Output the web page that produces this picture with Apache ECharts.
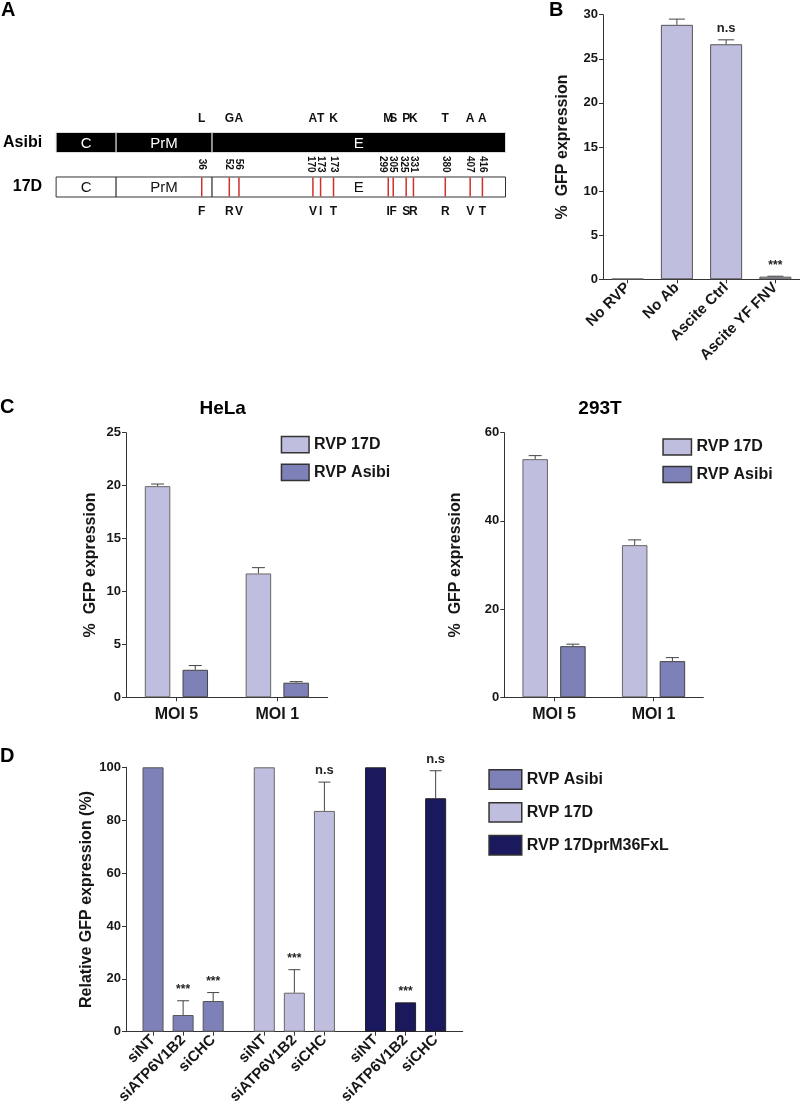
<!DOCTYPE html>
<html><head><meta charset="utf-8">
<script src="https://cdn.jsdelivr.net/npm/echarts@6/dist/echarts.min.js"></script>
<style>html,body{margin:0;padding:0;background:#fff}#c{width:800px;height:1112px}</style>
</head><body><div id="c"></div>
<script>
// ---------- Panel A: genome diagram ----------
const aRows = ['Asibi', '17D'];
const aSegNames = ['C', 'PrM', 'E'];
const aSegStart = [0, 60.3, 156.7];
const aSegEnd = [60.3, 156.7, 451.5];
const aMutX = [146.3, 174, 183.7, 258, 265.7, 278.7, 333.7, 338.7, 351.7, 359, 391, 416, 428.3];
const aMutNum = ['36', '52', '56', '170', '173', '173', '299', '305', '325', '331', '380', '407', '416'];
const aAsibiAA = ['L', 'G', 'A', 'A', 'T', 'K', 'M', 'S', 'P', 'K', 'T', 'A', 'A'];
const a17DAA = ['F', 'R', 'V', 'V', 'I', 'T', 'I', 'F', 'S', 'R', 'R', 'V', 'T'];

// ---------- Panel B ----------
const bCategories = ['No RVP', 'No Ab', 'Ascite Ctrl', 'Ascite YF FNV'];
const bValues = [0.05, 28.85, 26.65, 0.3];
const bErrors = [0, 0.65, 0.5, 0.05];
const bSig = ['', '', 'n.s', '***'];

// ---------- Panel C ----------
const cCategories = ['MOI 5', 'MOI 1'];
const hela17D = [19.95, 11.7];
const hela17DErr = [0.2, 0.55];
const helaAsibi = [2.6, 1.38];
const helaAsibiErr = [0.4, 0.1];
const t293_17D = [54.0, 34.5];
const t293_17DErr = [0.8, 1.2];
const t293Asibi = [11.6, 8.2];
const t293AsibiErr = [0.45, 0.8];

// ---------- Panel D ----------
const dTreatments = ['siNT', 'siATP6V1B2', 'siCHC'];
const dPositions = [1, 2, 3, 4.7, 5.7, 6.7, 8.4, 9.4, 10.4];
const dLabels = ['siNT', 'siATP6V1B2', 'siCHC', 'siNT', 'siATP6V1B2', 'siCHC', 'siNT', 'siATP6V1B2', 'siCHC'];
const dAsibi = [100, 6.3, 11.6];
const dAsibiErr = [0, 5.4, 3.2];
const dAsibiSig = ['', '***', '***'];
const d17D = [100, 14.75, 83.5];
const d17DErr = [0, 8.7, 10.9];
const d17DSig = ['', '***', 'n.s'];
const dFxL = [100, 11.1, 88.3];
const dFxLErr = [0, 0, 10.4];
const dFxLSig = ['', '***', 'n.s'];

const FONT = "'Liberation Sans', Arial, Helvetica, sans-serif";
const INK = '#161616';
const LIGHT = '#c0bedf';
const MED = '#7e80b8';
const NAVY = '#1b195e';

function yAx(grid, max, interval, name, gap) {
  return {
    type: 'value', gridIndex: grid, min: 0, max: max, interval: interval,
    name: name, nameLocation: 'middle', nameGap: gap,
    nameTextStyle: { fontFamily: FONT, fontWeight: 'bold', fontSize: 16, color: INK },
    axisLine: { show: true, lineStyle: { color: '#333', width: 1 } },
    axisTick: { show: true, length: 4, lineStyle: { color: '#333' } },
    axisLabel: { fontFamily: FONT, fontWeight: 'bold', fontSize: 13, color: INK, margin: 5 },
    splitLine: { show: false }
  };
}
function xCat(grid, data, label) {
  return {
    type: 'category', gridIndex: grid, data: data,
    axisLine: { show: true, lineStyle: { color: '#333', width: 1 } },
    axisTick: { show: true, alignWithLabel: true, length: 4, lineStyle: { color: '#333' } },
    axisLabel: Object.assign({ fontFamily: FONT, fontWeight: 'bold', color: INK, interval: 0 }, label),
    splitLine: { show: false }
  };
}
function errSeries(xi, yi, xs, vals, errs, sigs, offset, cap, sigSize) {
  return {
    type: 'custom', xAxisIndex: xi, yAxisIndex: yi, z: 4, silent: true,
    data: xs.map(function (x, i) { return [x, vals[i], errs[i]]; }),
    encode: { x: 0, y: 1 },
    renderItem: function (params, api) {
      const i = params.dataIndex;
      const x = api.value(0), v = api.value(1), e = api.value(2);
      const p0 = api.coord([x, v]);
      const p1 = api.coord([x, v + e]);
      const cx = p0[0] + offset;
      const ch = [];
      if (e > 0) {
        ch.push({ type: 'line', shape: { x1: cx, y1: p0[1], x2: cx, y2: p1[1] }, style: { stroke: '#444', lineWidth: 1 } });
        ch.push({ type: 'line', shape: { x1: cx - cap, y1: p1[1], x2: cx + cap, y2: p1[1] }, style: { stroke: '#444', lineWidth: 1 } });
      }
      const s = sigs ? sigs[i] : '';
      if (s) {
        const fs = s === 'n.s' ? sigSize + 1 : sigSize;
        ch.push({ type: 'text', style: { text: s, x: cx, y: p1[1] - 5, align: 'center', verticalAlign: 'bottom',
          font: 'bold ' + fs + 'px ' + FONT, fill: '#222' } });
      }
      return { type: 'group', children: ch };
    }
  };
}
function barS(name, xi, yi, data, color, border, extra) {
  return Object.assign({
    type: 'bar', name: name, xAxisIndex: xi, yAxisIndex: yi, data: data,
    itemStyle: { color: color, borderColor: border, borderWidth: 1 }, z: 2
  }, extra);
}

const C_BW = 25.5, C_GAP = 12.2;
const cOff = (C_BW + C_GAP) / 2;
const legendBase = {
  orient: 'vertical', icon: 'rect', selectedMode: false,
  textStyle: { fontFamily: FONT, fontWeight: 'bold', fontSize: 16, color: INK },
  itemStyle: { borderColor: '#333', borderWidth: 1.5 }
};

const option = {
  animation: false,
  backgroundColor: '#fff',
  graphic: [
    { type: 'text', x: 1, y: 10, style: { text: 'A', font: 'bold 20px ' + FONT, fill: '#000', verticalAlign: 'middle' } },
    { type: 'text', x: 549, y: 10, style: { text: 'B', font: 'bold 20px ' + FONT, fill: '#000', verticalAlign: 'middle' } },
    { type: 'text', x: 0, y: 407, style: { text: 'C', font: 'bold 20px ' + FONT, fill: '#000', verticalAlign: 'middle' } },
    { type: 'text', x: 0, y: 756, style: { text: 'D', font: 'bold 20px ' + FONT, fill: '#000', verticalAlign: 'middle' } },
    { type: 'text', x: 222.7, y: 409, style: { text: 'HeLa', font: 'bold 19px ' + FONT, fill: '#000', align: 'center', verticalAlign: 'middle' } },
    { type: 'text', x: 600, y: 409, style: { text: '293T', font: 'bold 19px ' + FONT, fill: '#000', align: 'center', verticalAlign: 'middle' } }
  ],
  grid: [
    { left: 54, width: 452, top: 120.25, height: 89 },
    { left: 603, right: 0, top: 14.7, height: 264.6 },
    { left: 126, width: 201.7, top: 432.7, height: 264.6 },
    { left: 504.3, width: 199, top: 432.7, height: 264.6 },
    { left: 126, width: 336.7, top: 767.3, height: 264.4 }
  ],
  xAxis: [
    { type: 'value', gridIndex: 0, min: 0, max: 452, show: false },
    xCat(1, bCategories, { rotate: 45, fontSize: 15, margin: 6 }),
    xCat(2, cCategories, { fontSize: 16, margin: 9 }),
    xCat(3, cCategories, { fontSize: 16, margin: 9 }),
    {
      type: 'value', gridIndex: 4, min: 0.1, max: 11.3,
      axisLine: { show: true, lineStyle: { color: '#333', width: 1 } },
      axisTick: { show: true, length: 4, customValues: dPositions, lineStyle: { color: '#333' } },
      axisLabel: {
        customValues: dPositions, rotate: 45, fontFamily: FONT, fontWeight: 'bold', fontSize: 15, color: INK, margin: 6,
        formatter: function (v) {
          const i = dPositions.findIndex(function (p) { return Math.abs(p - v) < 1e-6; });
          return i >= 0 ? dLabels[i] : '';
        }
      },
      splitLine: { show: false }
    }
  ],
  yAxis: [
    {
      type: 'category', gridIndex: 0, data: aRows, inverse: true,
      axisLine: { show: false }, axisTick: { show: false },
      axisLabel: { fontFamily: FONT, fontWeight: 'bold', fontSize: 16, color: '#000', margin: 14 }
    },
    yAx(1, 30, 5, '%  GFP expression', 32),
    yAx(2, 25, 5, '%  GFP expression', 27),
    yAx(3, 60, 20, '%  GFP expression', 41),
    yAx(4, 100, 20, 'Relative GFP expression (%)', 31)
  ],
  legend: [
    Object.assign({ data: ['RVP 17D', 'RVP Asibi'], left: 275.7, top: 430.7, itemWidth: 27.6, itemHeight: 16.3, itemGap: 10 }, legendBase),
    Object.assign({ data: ['RVP 17D', 'RVP Asibi'], left: 657.3, top: 433.3, itemWidth: 28.4, itemHeight: 16, itemGap: 10 }, legendBase),
    Object.assign({ data: ['RVP Asibi', 'RVP 17D', 'RVP 17DprM36FxL'], left: 483.3, top: 764, itemWidth: 32.7, itemHeight: 19.4, itemGap: 12 }, legendBase)
  ],
  series: [
    // Panel A segments
    {
      type: 'custom', xAxisIndex: 0, yAxisIndex: 0, z: 2, silent: true,
      data: [0, 1].flatMap(function (r) { return aSegNames.map(function (n, k) { return [aSegStart[k], aSegEnd[k], r, k]; }); }),
      encode: { x: [0, 1], y: 2 },
      renderItem: function (params, api) {
        const r = api.value(2), k = api.value(3);
        const p1 = api.coord([api.value(0), r]);
        const p2 = api.coord([api.value(1), r]);
        const h = api.size([0, 1])[1] * 0.45;
        const dark = r === 0;
        return {
          type: 'group', children: [
            { type: 'rect', shape: { x: p1[0], y: p1[1] - h / 2, width: p2[0] - p1[0], height: h },
              style: { fill: dark ? '#000' : '#fff', stroke: dark ? '#ddd' : '#333', lineWidth: 1 } },
            { type: 'text', style: { text: aSegNames[k], x: (p1[0] + p2[0]) / 2, y: p1[1] + 1, align: 'center', verticalAlign: 'middle',
              font: '15px ' + FONT, fill: dark ? '#fff' : '#111' } }
          ]
        };
      }
    },
    // Panel A mutations
    {
      type: 'custom', xAxisIndex: 0, yAxisIndex: 0, z: 3, silent: true,
      data: aMutX.map(function (x) { return [x, 1]; }),
      encode: { x: 0, y: 1 },
      renderItem: function (params, api) {
        const i = params.dataIndex;
        const x = api.value(0);
        const pA = api.coord([x, 0]);
        const pD = api.coord([x, 1]);
        const band = api.size([0, 1])[1];
        const h = band * 0.45;
        // keep rotated numbers from overlapping their right neighbour
        let shift = 0;
        if (i + 1 < aMutX.length) {
          const gap = api.coord([aMutX[i + 1], 1])[0] - pD[0];
          if (gap < 10) shift = -(10 - gap);
        }
        return {
          type: 'group', children: [
            { type: 'line', shape: { x1: pD[0], y1: pD[1] - h / 2 + 0.5, x2: pD[0], y2: pD[1] + h / 2 - 0.5 }, style: { stroke: '#d0302a', lineWidth: 1.5 } },
            { type: 'text', x: pD[0] + shift, y: (pA[1] + pD[1]) / 2 - 0.5, rotation: -Math.PI / 2,
              style: { text: aMutNum[i], x: 0, y: 0, align: 'center', verticalAlign: 'middle', font: 'bold 10px ' + FONT, fill: '#111' } },
            { type: 'text', style: { text: aAsibiAA[i], x: pA[0], y: pA[1] - band * 0.53, align: 'center', verticalAlign: 'middle', font: 'bold 12px ' + FONT, fill: '#111' } },
            { type: 'text', style: { text: a17DAA[i], x: pD[0], y: pD[1] + band * 0.56, align: 'center', verticalAlign: 'middle', font: 'bold 12px ' + FONT, fill: '#111' } }
          ]
        };
      }
    },
    // Panel B
    barS('B', 1, 1, bValues, LIGHT, '#555', { barWidth: 32 }),
    errSeries(1, 1, bCategories.map(function (c, i) { return i; }), bValues, bErrors, bSig, 0, 8, 12),
    // Panel C HeLa
    barS('RVP 17D', 2, 2, hela17D, LIGHT, '#666', { barWidth: C_BW, barGap: '48%' }),
    barS('RVP Asibi', 2, 2, helaAsibi, MED, '#444', { barWidth: C_BW, barGap: '48%' }),
    errSeries(2, 2, [0, 1], hela17D, hela17DErr, null, -cOff, 6.5, 12),
    errSeries(2, 2, [0, 1], helaAsibi, helaAsibiErr, null, cOff, 6.5, 12),
    // Panel C 293T
    barS('RVP 17D', 3, 3, t293_17D, LIGHT, '#666', { barWidth: C_BW, barGap: '48%' }),
    barS('RVP Asibi', 3, 3, t293Asibi, MED, '#444', { barWidth: C_BW, barGap: '48%' }),
    errSeries(3, 3, [0, 1], t293_17D, t293_17DErr, null, -cOff, 6.5, 12),
    errSeries(3, 3, [0, 1], t293Asibi, t293AsibiErr, null, cOff, 6.5, 12),
    // Panel D
    barS('RVP Asibi', 4, 4, dAsibi.map(function (v, i) { return [dPositions[i], v]; }), MED, '#555', { barWidth: 21, barGap: '-100%' }),
    barS('RVP 17D', 4, 4, d17D.map(function (v, i) { return [dPositions[3 + i], v]; }), LIGHT, '#666', { barWidth: 21, barGap: '-100%' }),
    barS('RVP 17DprM36FxL', 4, 4, dFxL.map(function (v, i) { return [dPositions[6 + i], v]; }), NAVY, '#222', { barWidth: 21, barGap: '-100%' }),
    errSeries(4, 4, dPositions.slice(0, 3), dAsibi, dAsibiErr, dAsibiSig, 0, 6, 12),
    errSeries(4, 4, dPositions.slice(3, 6), d17D, d17DErr, d17DSig, 0, 6, 12),
    errSeries(4, 4, dPositions.slice(6, 9), dFxL, dFxLErr, dFxLSig, 0, 6, 12)
  ]
};

const chart = echarts.init(document.getElementById('c'), null, { renderer: 'canvas' });
chart.setOption(option);
</script>
</body></html>
